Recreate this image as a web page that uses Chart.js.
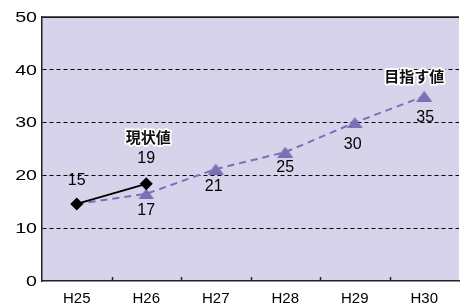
<!DOCTYPE html>
<html>
<head>
<meta charset="utf-8">
<script src="https://cdn.jsdelivr.net/npm/chart.js@4/dist/chart.umd.min.js"></script>
<style>
  html, body { margin: 0; padding: 0; background: #fff; overflow: hidden; }
  #wrap { width: 468px; height: 306px; }
</style>
</head>
<body>
<div id="wrap"><canvas id="chart" width="468" height="306"></canvas></div>
<script>
const years = ['H25', 'H26', 'H27', 'H28', 'H29', 'H30'];
const currentValues = [14.6, 18.4];
const targetValues = [14.6, 16.5, 21.2, 24.4, 30, 35];
const currentLabels = ['15', '19'];
const targetLabels = ['', '17', '21', '25', '30', '35'];
const yTicks = [0, 10, 20, 30, 40, 50];

const purple = '#7b6fb6';
const plotBg = '#d6d3ea';
const latin = '"Liberation Sans", Arial, sans-serif';
const cjk = '"Noto Sans CJK JP", sans-serif';

// triangle marker centred in its own box (like the original)
function makeTriangle(w, h, color) {
    const c = document.createElement('canvas');
    c.width = w;
    c.height = h;
    const g = c.getContext('2d');
    g.fillStyle = color;
    g.beginPath();
    g.moveTo(w / 2, 0);
    g.lineTo(w, h);
    g.lineTo(0, h);
    g.closePath();
    g.fill();
    return c;
}
const triangle = makeTriangle(16, 11, purple);

const plotBackground = {
    id: 'plotBackground',
    beforeDraw(chart) {
        const { ctx, chartArea: a } = chart;
        ctx.save();
        ctx.fillStyle = plotBg;
        ctx.fillRect(a.left, a.top, a.right - a.left, a.bottom - a.top);
        ctx.restore();
    }
};

const frame = {
    id: 'frame',
    afterDraw(chart) {
        const { ctx, chartArea: a } = chart;
        const x = chart.scales.x;
        const y = chart.scales.y;
        ctx.save();
        ctx.strokeStyle = '#222';
        ctx.lineWidth = 1.5;
        ctx.beginPath();
        ctx.moveTo(a.left, a.top);
        ctx.lineTo(a.right, a.top);
        // inward tick marks between categories
        const half = (x.getPixelForValue(1) - x.getPixelForValue(0)) / 2;
        for (let i = 1; i < years.length; i++) {
            const px = Math.round(x.getPixelForValue(i) - half) + 0.5;
            ctx.moveTo(px, a.bottom);
            ctx.lineTo(px, a.bottom - 4);
        }
        ctx.stroke();

        // y tick labels, drawn a little wide like the original
        ctx.fillStyle = '#000';
        ctx.font = '14px ' + latin;
        ctx.textAlign = 'right';
        ctx.textBaseline = 'middle';
        yTicks.forEach(v => {
            ctx.save();
            ctx.translate(a.left - 5, y.getPixelForValue(v) + 1);
            ctx.scale(1.4, 1);
            ctx.fillText(String(v), 0, 0);
            ctx.restore();
        });
        ctx.restore();
    }
};

const valueLabels = {
    id: 'valueLabels',
    afterDatasetsDraw(chart, args, opts) {
        const { ctx } = chart;
        ctx.save();
        ctx.fillStyle = '#000';
        ctx.textAlign = 'center';
        ctx.textBaseline = 'middle';
        ctx.font = '16px ' + latin;
        opts.sets.forEach(set => {
            const meta = chart.getDatasetMeta(set.dataset);
            set.texts.forEach((t, i) => {
                if (!t) return;
                const p = meta.data[i];
                ctx.fillText(t, p.x + set.dx[i], p.y + set.dy[i]);
            });
        });
        ctx.font = 'bold 15px ' + cjk;
        ctx.lineJoin = 'round';
        opts.notes.forEach(n => {
            const p = chart.getDatasetMeta(n.dataset).data[n.index];
            ctx.strokeStyle = '#fff';
            ctx.lineWidth = 3.5;
            ctx.strokeText(n.text, p.x + n.dx, p.y + n.dy);
            ctx.fillStyle = '#111';
            ctx.fillText(n.text, p.x + n.dx, p.y + n.dy);
        });
        ctx.restore();
    }
};

new Chart(document.getElementById('chart'), {
    type: 'line',
    data: {
        labels: years,
        datasets: [{
            label: '現状値',
            data: currentValues,
            borderColor: '#000',
            borderWidth: 2,
            pointStyle: 'rectRot',
            pointRadius: 6.5,
            pointBackgroundColor: '#000',
            pointBorderColor: '#000',
            pointBorderWidth: 0,
            fill: false
        }, {
            label: '目指す値',
            data: targetValues,
            borderColor: purple,
            borderWidth: 2,
            borderDash: [7, 5],
            pointStyle: triangle,
            pointRadius: ctx => ctx.dataIndex === 0 ? 0 : 7,
            fill: false
        }]
    },
    options: {
        responsive: false,
        animation: false,
        layout: { padding: { top: 17, left: 0, right: 0, bottom: 0 } },
        plugins: {
            legend: { display: false },
            tooltip: { enabled: false },
            valueLabels: {
                sets: [
                    { dataset: 0, texts: currentLabels, dx: [0, 0], dy: [-23, -25] },
                    { dataset: 1, texts: targetLabels, dx: [0, 0, -2, 0, -2, 1], dy: [0, 17, 18, 15, 22, 21] }
                ],
                notes: [
                    { dataset: 0, index: 1, text: '現状値', dx: 2, dy: -47 },
                    { dataset: 1, index: 5, text: '目指す値', dx: -10, dy: -20 }
                ]
            }
        },
        scales: {
            x: {
                offset: true,
                afterFit(scale) { scale.height = 25; },
                grid: { display: false, drawTicks: false },
                border: { display: true, color: '#222', width: 1.5 },
                ticks: {
                    color: '#000',
                    padding: 9,
                    maxRotation: 0,
                    font: { family: latin, size: 15 }
                }
            },
            y: {
                min: 0,
                max: 50,
                afterFit(scale) { scale.width = 42; },
                ticks: { stepSize: 10, display: false },
                grid: {
                    drawTicks: false,
                    lineWidth: 1,
                    color: ctx => (ctx.tick && ctx.tick.value === 0) ? 'rgba(0,0,0,0)' : '#000'
                },
                border: {
                    display: true,
                    color: '#222',
                    width: 1.5,
                    dash: ctx => (ctx.tick && ctx.tick.value === 50) ? [] : [4, 3]
                }
            }
        }
    },
    plugins: [plotBackground, frame, valueLabels]
});
</script>
</body>
</html>
